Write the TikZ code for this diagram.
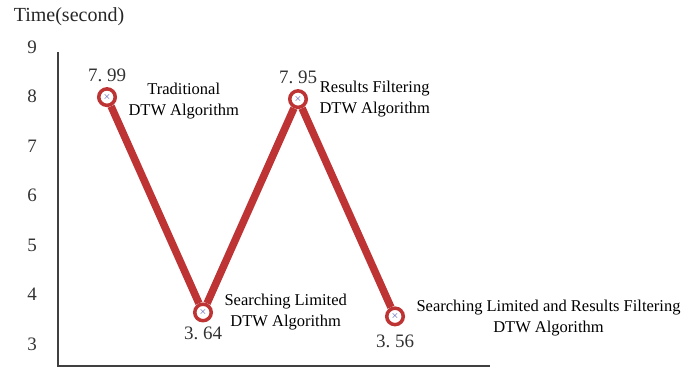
\documentclass[tikz,border=0pt]{standalone}
\usepackage{fontspec}
\setmainfont{Liberation Serif}
\usetikzlibrary{positioning}
\definecolor{curveRed}{RGB}{190,52,52}
\definecolor{crossBlue}{RGB}{40,40,160}
\begin{document}
\begin{tikzpicture}[x=1pt, y=49.5pt]
% Parameters
\def\axisx{58}
\def\axisbottom{2.556}
\def\axistop{8.9}
\def\axisright{490}
\def\valfont{\fontsize{19}{19}\selectfont}
\def\notefont{\fontsize{16.5}{21}\selectfont}

\useasboundingbox (0,2.515) rectangle (690,9.952);

% === Axes ===
\coordinate (Origin) at (\axisx,\axisbottom);
\coordinate (YTop) at (\axisx,\axistop);
\coordinate (XEnd) at (\axisright,\axisbottom);
\draw[line width=1.3pt, black!75] (YTop) -- (Origin) -- (XEnd);

% === Tick Labels ===
\foreach \v in {3,...,9}{
  \node[font=\valfont, text=black!80] (Tick-\v) at (32,\v) {\v};
}
\node[font=\fontsize{20}{20}\selectfont, text=black!85] (YLabel) at (69,9.606) {Time(second)};

% === Data Points ===
\foreach \i/\x/\v in {1/107/7.99, 2/203/3.64, 3/298/7.95, 4/395/3.56}{
  \node[circle, minimum size=16.5pt, inner sep=0pt, line width=3.5pt, draw=curveRed,
    fill=white, text=crossBlue, font=\normalsize]
    (Point-\i) at (\x,\v) {$\times$};
}

% === Connections ===
\foreach \i/\j in {1/2, 2/3, 3/4}{
  \draw[line width=7.5pt, curveRed] (Point-\i) -- (Point-\j);
}

% === Values ===
\node[above=2pt of Point-1, font=\valfont, text=black!80] (Value-1) {7.\ 99};
\node[below=1pt of Point-2, font=\valfont, text=black!80] (Value-2) {3.\ 64};
\node[above=2pt of Point-3, font=\valfont, text=black!80] (Value-3) {7.\ 95};
\node[below=5pt of Point-4, font=\valfont, text=black!80] (Value-4) {3.\ 56};

% === Labels ===
\node[right=8pt of Point-1, yshift=-4pt, align=center, font=\notefont] (Note-1) {Traditional\\DTW Algorithm};
\node[right=8pt of Point-2, align=center, font=\notefont] (Note-2) {Searching Limited\\DTW Algorithm};
\node[right=8pt of Point-3, align=center, font=\notefont] (Note-3) {Results Filtering\\DTW Algorithm};
\node[right=8pt of Point-4, yshift=-2pt, align=center, font=\notefont] (Note-4) {Searching Limited and Results Filtering\\DTW Algorithm};
\end{tikzpicture}
\end{document}
